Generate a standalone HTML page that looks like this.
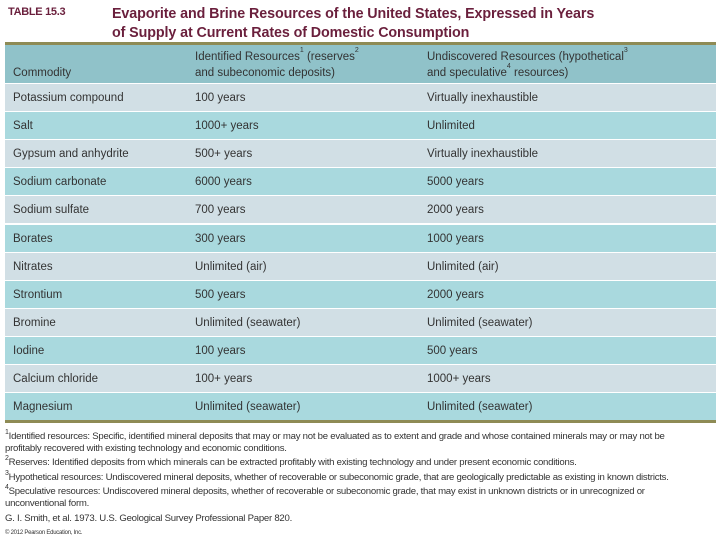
<!DOCTYPE html>
<html><head><meta charset="utf-8"><style>
body{margin:0;width:720px;height:540px;background:#fff;font-family:"Liberation Sans",sans-serif;position:relative;overflow:hidden}
.a{position:absolute;white-space:nowrap}
.title{color:#6a1f3c;font-weight:bold;font-size:14.3px;left:112px;line-height:19px;letter-spacing:-0.1px}
.row{position:absolute;left:5px;width:711px;height:27px}
.c{position:absolute;font-size:11.5px;color:#333;top:7px;line-height:14px}
.fn{position:absolute;left:5px;font-size:9.6px;color:#333;line-height:12px;letter-spacing:-0.25px}
sup{font-size:7px;vertical-align:top;line-height:7px;position:relative;top:-2px}
</style></head><body>
<div class="a" style="left:8px;top:6px;color:#6a1f3c;font-weight:bold;font-size:11px;letter-spacing:-0.3px">TABLE 15.3</div>
<div class="a title" style="top:5px">Evaporite and Brine Resources of the United States, Expressed in Years<br>of Supply at Current Rates of Domestic Consumption</div>
<div class="a" style="left:5px;top:42px;width:711px;height:3px;background:#8e8b55"></div>
<div class="row" style="top:45px;height:38px;background:#90c2c9">
<div class="c" style="left:8px;top:21px">Commodity</div>
<div class="c" style="left:190px;top:4px;line-height:16px">Identified Resources<sup>1</sup> (reserves<sup>2</sup><br>and subeconomic deposits)</div>
<div class="c" style="left:422px;top:4px;line-height:16px">Undiscovered Resources (hypothetical<sup>3</sup><br>and speculative<sup>4</sup> resources)</div>
</div>
<div id="rows"></div>
<div class="a" style="left:5px;top:420px;width:711px;height:3px;background:#8e8b55"></div>
<div class="fn" style="top:431px"><sup>1</sup>Identified resources: Specific, identified mineral deposits that may or may not be evaluated as to extent and grade and whose contained minerals may or may not be<br>profitably recovered with existing technology and economic conditions.</div>
<div class="fn" style="top:457px"><sup>2</sup>Reserves: Identified deposits from which minerals can be extracted profitably with existing technology and under present economic conditions.</div>
<div class="fn" style="top:472px"><sup>3</sup>Hypothetical resources: Undiscovered mineral deposits, whether of recoverable or subeconomic grade, that are geologically predictable as existing in known districts.</div>
<div class="fn" style="top:486px"><sup>4</sup>Speculative resources: Undiscovered mineral deposits, whether of recoverable or subeconomic grade, that may exist in unknown districts or in unrecognized or<br>unconventional form.</div>
<div class="fn" style="top:513px">G. I. Smith, et al. 1973. U.S. Geological Survey Professional Paper 820.</div>
<div class="fn" style="top:527px;font-size:6px">© 2012 Pearson Education, Inc.</div>
<script>
const commodities=["Potassium compound","Salt","Gypsum and anhydrite","Sodium carbonate","Sodium sulfate","Borates","Nitrates","Strontium","Bromine","Iodine","Calcium chloride","Magnesium"];
const identified=["100 years","1000+ years","500+ years","6000 years","700 years","300 years","Unlimited (air)","500 years","Unlimited (seawater)","100 years","100+ years","Unlimited (seawater)"];
const undiscovered=["Virtually inexhaustible","Unlimited","Virtually inexhaustible","5000 years","2000 years","1000 years","Unlimited (air)","2000 years","Unlimited (seawater)","500 years","1000+ years","Unlimited (seawater)"];
const host=document.getElementById('rows');
commodities.forEach((c,i)=>{
 const r=document.createElement('div');
 r.className='row';
 
 
 r.style.top=(84+i*28.1)+'px';
 r.style.background=i%2?'#a9d9de':'#d1dfe5';
 [[c,8],[identified[i],190],[undiscovered[i],422]].forEach(([t,x],j)=>{
  const d=document.createElement('div');
  d.className='c';
  
  
  d.style.left=x+'px';d.textContent=t;r.appendChild(d);
 });
 host.appendChild(r);
});
</script>
</body></html>
